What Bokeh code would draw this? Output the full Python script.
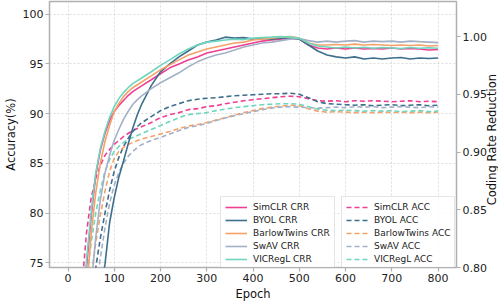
import math
from bokeh.plotting import figure
from bokeh.models import Range1d, LinearAxis, Legend, LegendItem, FixedTicker, CustomJSTickFormatter
from bokeh.embed import file_html
from bokeh.resources import INLINE

epochs = [20, 30, 40, 50, 60, 70, 80, 90, 100, 110, 120, 130, 140, 150, 160,
          180, 200, 220, 240, 260, 280, 300, 320, 340, 360, 380, 400, 420, 440, 460, 480, 500,
          520, 540, 560, 580, 600, 620, 640, 660, 680, 700, 720, 740, 760, 780, 800]

methods = ["SimCLR", "BYOL", "BarlowTwins", "SwAV", "VICRegL"]
colors = ["#ee3f93", "#3d6e8c", "#f4a16a", "#a3b1c6", "#6fd6be"]

# Coding rate reduction (right axis, solid)
crr_simclr = [0.6586, 0.7273, 0.8004, 0.8433, 0.8802, 0.9017, 0.9163, 0.9275, 0.9352, 0.9404, 0.9447, 0.9490, 0.9524, 0.9550, 0.9576,
              0.9627, 0.9679, 0.9730, 0.9764, 0.9799, 0.9825, 0.9859, 0.9876, 0.9893, 0.9911, 0.9928, 0.9945, 0.9962, 0.9971, 0.9979, 0.9984, 0.9979,
              0.9928, 0.9902, 0.9893, 0.9902, 0.9893, 0.9902, 0.9893, 0.9898, 0.9893, 0.9902, 0.9893, 0.9898, 0.9893, 0.9885, 0.9889]
crr_byol = [0.5040, 0.5727, 0.6328, 0.6930, 0.7402, 0.7789, 0.8029, 0.8390, 0.8605, 0.8785, 0.8923, 0.9069, 0.9206, 0.9326, 0.9421,
            0.9576, 0.9696, 0.9764, 0.9825, 0.9876, 0.9928, 0.9953, 0.9971, 0.9996, 0.9988, 0.9992, 0.9979, 0.9984, 0.9979, 0.9988, 0.9992, 0.9979,
            0.9928, 0.9876, 0.9842, 0.9825, 0.9816, 0.9825, 0.9807, 0.9816, 0.9807, 0.9816, 0.9820, 0.9807, 0.9816, 0.9811, 0.9816]
crr_barlow = [0.6328, 0.7016, 0.7789, 0.8287, 0.8648, 0.8905, 0.9094, 0.9232, 0.9352, 0.9421, 0.9481, 0.9524, 0.9558, 0.9584, 0.9610,
              0.9661, 0.9713, 0.9756, 0.9799, 0.9842, 0.9868, 0.9893, 0.9911, 0.9928, 0.9945, 0.9953, 0.9971, 0.9979, 0.9988, 0.9996, 1.0001, 0.9988,
              0.9945, 0.9928, 0.9928, 0.9932, 0.9928, 0.9936, 0.9928, 0.9932, 0.9928, 0.9924, 0.9928, 0.9924, 0.9928, 0.9919, 0.9924]
crr_swav = [0.5899, 0.6500, 0.7102, 0.7832, 0.8261, 0.8588, 0.8820, 0.8974, 0.9103, 0.9198, 0.9283, 0.9352, 0.9412, 0.9455, 0.9490,
            0.9550, 0.9601, 0.9644, 0.9687, 0.9739, 0.9782, 0.9816, 0.9842, 0.9859, 0.9885, 0.9911, 0.9928, 0.9945, 0.9953, 0.9966, 0.9979, 0.9984,
            0.9966, 0.9953, 0.9962, 0.9953, 0.9962, 0.9966, 0.9953, 0.9962, 0.9957, 0.9962, 0.9953, 0.9962, 0.9957, 0.9953, 0.9949]
crr_vicregl = [0.6758, 0.7445, 0.8064, 0.8476, 0.8820, 0.9034, 0.9180, 0.9301, 0.9395, 0.9464, 0.9515, 0.9558, 0.9593, 0.9618, 0.9644,
               0.9696, 0.9752, 0.9799, 0.9850, 0.9893, 0.9928, 0.9953, 0.9962, 0.9971, 0.9979, 0.9975, 0.9988, 0.9992, 0.9996, 1.0001, 0.9996, 0.9988,
               0.9945, 0.9919, 0.9911, 0.9902, 0.9911, 0.9902, 0.9908, 0.9900, 0.9906, 0.9902, 0.9898, 0.9906, 0.9900, 0.9904, 0.9900]

# Accuracy (left axis, dashed)
acc_simclr = [65.0, 72.5, 78.0, 81.5, 83.5, 84.8, 85.8, 86.4, 86.9, 87.3, 87.7, 88.0, 88.3, 88.5, 88.7,
              89.1, 89.6, 89.9, 90.1, 90.4, 90.5, 90.7, 90.8, 91.0, 91.15, 91.3, 91.4, 91.5, 91.6, 91.7, 91.75, 91.7,
              91.5, 91.3, 91.25, 91.3, 91.2, 91.3, 91.25, 91.3, 91.25, 91.2, 91.25, 91.3, 91.2, 91.25, 91.2]
acc_byol = [55.0, 62.0, 67.0, 71.5, 74.5, 77.5, 80.0, 82.3, 84.2, 85.6, 86.7, 87.5, 88.2, 88.7, 89.1,
            89.7, 90.3, 90.7, 91.0, 91.3, 91.45, 91.55, 91.6, 91.7, 91.8, 91.85, 91.9, 91.95, 92.0, 92.0, 92.05, 91.95,
            91.6, 91.2, 91.0, 90.95, 90.9, 90.85, 90.9, 90.8, 90.85, 90.9, 90.8, 90.85, 90.9, 90.8, 90.85]
acc_barlow = [58.0, 64.0, 69.0, 73.5, 77.0, 79.8, 82.2, 84.2, 85.5, 86.2, 86.6, 86.9, 87.1, 87.3, 87.45,
              87.7, 87.95, 88.2, 88.5, 88.75, 88.9, 89.1, 89.35, 89.6, 89.85, 90.1, 90.3, 90.5, 90.65, 90.75, 90.85, 90.8,
              90.5, 90.25, 90.15, 90.2, 90.15, 90.1, 90.15, 90.1, 90.15, 90.1, 90.15, 90.1, 90.15, 90.1, 90.15]
acc_swav = [50.0, 57.0, 63.0, 68.0, 72.0, 75.5, 78.5, 81.0, 82.8, 84.1, 85.0, 85.7, 86.2, 86.6, 86.9,
            87.3, 87.6, 87.95, 88.3, 88.6, 88.8, 89.0, 89.3, 89.55, 89.8, 90.0, 90.2, 90.4, 90.55, 90.65, 90.7, 90.65,
            90.6, 90.55, 90.6, 90.65, 90.6, 90.7, 90.65, 90.7, 90.6, 90.65, 90.7, 90.65, 90.6, 90.7, 90.65]
acc_vicregl = [62.0, 68.0, 73.3, 77.0, 80.0, 82.3, 84.2, 85.4, 86.2, 86.7, 87.1, 87.4, 87.6, 87.8, 88.0,
               88.4, 88.8, 89.2, 89.6, 89.9, 90.0, 90.1, 90.3, 90.45, 90.6, 90.7, 90.8, 90.9, 90.95, 91.0, 91.0, 90.95,
               90.7, 90.45, 90.35, 90.3, 90.35, 90.3, 90.25, 90.3, 90.25, 90.3, 90.2, 90.25, 90.3, 90.2, 90.25]

crr_series = [crr_simclr, crr_byol, crr_barlow, crr_swav, crr_vicregl]
acc_series = [acc_simclr, acc_byol, acc_barlow, acc_swav, acc_vicregl]

x_ticks = [0, 100, 200, 300, 400, 500, 600, 700, 800]
acc_ticks = [75, 80, 85, 90, 95, 100]
crr_ticks = [0.80, 0.85, 0.90, 0.95, 1.00]

FONT = "DejaVu Sans"
FRAME_W = 407
FRAME_H = 266
X0, X1 = -40, 840
Y0, Y1 = 74.52, 101.28

p = figure(frame_width=FRAME_W, frame_height=FRAME_H, output_backend="svg", toolbar_location=None,
           x_range=Range1d(X0, X1), y_range=Range1d(Y0, Y1),
           min_border_top=1, min_border_left=0, min_border_right=0, min_border_bottom=0)
p.extra_y_ranges = {"crr": Range1d(0.80, 1.0305)}

p.outline_line_color = "#b0b0b0"
p.outline_line_width = 1.5
p.background_fill_color = "white"

p.xaxis.ticker = FixedTicker(ticks=x_ticks)
p.yaxis.ticker = FixedTicker(ticks=acc_ticks)
p.xaxis.axis_label = "Epoch"
p.yaxis.axis_label = "Accuracy(%)"

right = LinearAxis(y_range_name="crr", ticker=FixedTicker(ticks=crr_ticks))
right.formatter = CustomJSTickFormatter(code="return tick.toFixed(2);")
p.add_layout(right, "right")

for ax in [p.xaxis[0], p.yaxis[0], right]:
    ax.axis_line_color = None
    ax.major_tick_line_color = "#b0b0b0"
    ax.major_tick_line_width = 1.2
    ax.major_tick_out = 4
    ax.major_tick_in = 0
    ax.minor_tick_line_color = None
    ax.major_label_text_font = FONT
    ax.major_label_text_font_size = "11px"
    ax.major_label_text_color = "#222222"
    ax.major_label_standoff = 2
    ax.axis_label_text_font = FONT
    ax.axis_label_text_font_size = "11.5px"
    ax.axis_label_text_font_style = "normal"
    ax.axis_label_text_color = "#111111"
    ax.axis_label_standoff = 2

# right-hand axis title, reading bottom-to-top like the left one
right_title = "Coding Rate Reduction"
try:
    right.axis_label_orientation = math.pi / 2
    right.axis_label_align = "start"
    right_title = "\u00a0" * 17 + right_title
except Exception:
    pass
right.axis_label = right_title

p.xgrid.grid_line_color = "#d4d4d4"
p.ygrid.grid_line_color = "#d4d4d4"
p.xgrid.grid_line_dash = "2 2"
p.ygrid.grid_line_dash = "2 2"
p.xgrid.grid_line_width = 0.8
p.ygrid.grid_line_width = 0.8

crr_renderers = []
acc_renderers = []
for name, col, ys in zip(methods, colors, acc_series):
    r = p.line(epochs, ys, line_color=col, line_width=1.6, line_dash="5 3")
    acc_renderers.append(r)
for name, col, ys in zip(methods, colors, crr_series):
    r = p.line(epochs, ys, line_color=col, line_width=1.6, y_range_name="crr")
    crr_renderers.append(r)


def make_legend(labels, rends, loc):
    lg = Legend(items=[LegendItem(label=l, renderers=[r]) for l, r in zip(labels, rends)],
                location=loc, orientation="vertical")
    lg.label_text_font = FONT
    lg.label_text_font_size = "9px"
    lg.label_text_color = "#222222"
    lg.glyph_width = 22
    lg.glyph_height = 12
    lg.label_height = 12
    lg.label_standoff = 6
    lg.spacing = 1
    lg.padding = 4
    lg.margin = 0
    lg.border_line_color = "#cccccc"
    lg.border_line_width = 1
    lg.background_fill_alpha = 0.85
    return lg


LEG_W = 116
leg2 = make_legend([m + " ACC" for m in methods], acc_renderers, (FRAME_W - LEG_W + 1, -3))
leg1 = make_legend([m + " CRR" for m in methods], crr_renderers, (FRAME_W - 2 * LEG_W - 4, -3))
p.add_layout(leg1)
p.add_layout(leg2)

open("out.html", "w").write(file_html(p, INLINE))
